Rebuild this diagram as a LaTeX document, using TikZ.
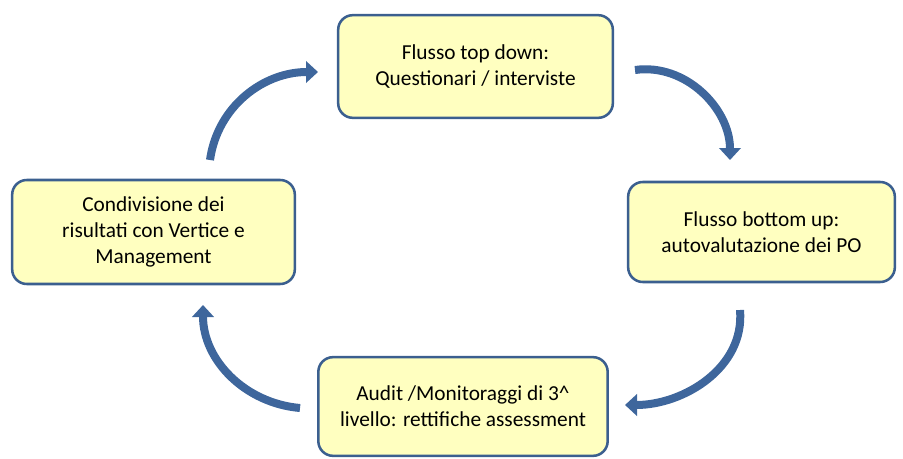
\documentclass[tikz,border=0pt]{standalone}
\usepackage{fontspec}
\setmainfont{Carlito}
\usetikzlibrary{positioning}
\usetikzlibrary{calc}
\usetikzlibrary{arrows.meta}

\definecolor{boxfill}{RGB}{255,255,192}
\definecolor{boxline}{RGB}{59,95,143}
\definecolor{cicloblue}{RGB}{62,102,156}

\begin{document}
\begin{tikzpicture}[x=0.75pt,y=0.75pt,
fase/.style={draw=boxline,fill=boxfill,line width=1.9pt,rounded corners=11pt,align=center,inner sep=0pt,font=\fontsize{16}{19.5}\selectfont},
ciclo/.style={draw=cicloblue,line width=6pt,-{Triangle[length=9pt,width=16pt]}}]
\useasboundingbox (0,0) rectangle (903,458);

\node[fase,minimum width=206pt,minimum height=77pt](flussoTD) at (475.5,391.5){Flusso top down:\\Questionari / interviste};
\node[fase,minimum width=212pt,minimum height=78pt](condivisione) at (153.5,226){Condivisione dei\\risultati con Vertice e\\Management};
\node[fase,minimum width=200pt,minimum height=75pt](flussoBU) at (761.5,226){Flusso bottom up:\\autovalutazione dei PO};
\node[fase,minimum width=217pt,minimum height=74pt](audit) at (463,51.5){Audit /Monitoraggi di 3\textasciicircum\\livello: rettifiche assessment};

\coordinate(startTD) at (210,298);
\coordinate(endTD) at (318,386);
\coordinate(startBU) at (635,388);
\coordinate(endBU) at (730,298);
\coordinate(startAU) at (740,148);
\coordinate(endAU) at (625,53);
\coordinate(startCO) at (300,50);
\coordinate(endCO) at (203,153);

\path
(startTD) edge[ciclo,out=82,in=180]node{} (endTD)
(startBU) edge[ciclo,out=8,in=90]node{} (endBU)
(startAU) edge[ciclo,out=-85,in=0]node{} (endAU)
(startCO) edge[ciclo,out=175,in=-90]node{} (endCO);
\end{tikzpicture}
\end{document}
